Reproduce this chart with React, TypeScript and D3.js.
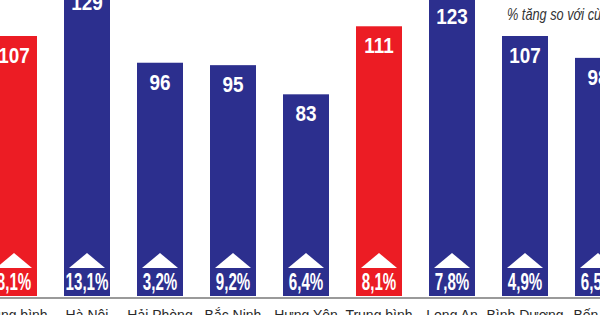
import React from "react";
import * as d3 from "d3";

const categories = [
  "Trung bình cả nước",
  "Hà Nội",
  "Hải Phòng",
  "Bắc Ninh",
  "Hưng Yên",
  "Trung bình vùng",
  "Long An",
  "Bình Dương",
  "Bến Tre",
];
const labelLines = [
  ["Trung bình", "cả nước"],
  ["Hà Nội"],
  ["Hải Phòng"],
  ["Bắc Ninh"],
  ["Hưng Yên"],
  ["Trung bình", "vùng"],
  ["Long An"],
  ["Bình Dương"],
  ["Bến Tre"],
];
const values = [107, 129, 96, 95, 83, 111, 123, 107, 98];
const growth = ["8,1%", "13,1%", "3,2%", "9,2%", "6,4%", "8,1%", "7,8%", "4,9%", "6,5%"];
const highlighted = [true, false, false, false, false, true, false, false, false];
const legendText = "% tăng so với cùng kỳ";

const W = 600;
const H = 315;
const BLUE = "#2c2f8e";
const RED = "#ec1c24";
const BOLD = "'Liberation Sans', Arial, sans-serif";

export default function App() {
  const x = d3
    .scaleBand<string>()
    .domain(categories)
    .range([-22.5, 634.5])
    .paddingInner(0.37)
    .paddingOuter(0.185);
  const y = d3.scaleLinear().domain([0, 107]).range([296, 36]);
  const bw = x.bandwidth();
  const tri = d3.line<[number, number]>();
  return (
    <svg width={W} height={H} style={{ position: "absolute", left: 0, top: 0, background: "#fff" }}>
      <rect x={0} y={0} width={W} height={H} fill="#fff" />
      {categories.map((c, i) => {
        const x0 = x(c)!;
        const cx = x0 + bw / 2;
        const top = y(values[i]);
        const fill = highlighted[i] ? RED : BLUE;
        return (
          <g key={c}>
            <rect x={x0} y={top} width={bw} height={y(0) - top} fill={fill} />
            <text
              transform={`translate(${cx},${top + 27}) scale(0.86,1)`}
              textAnchor="middle"
              fill="#fff"
              fontFamily={BOLD}
              fontWeight="bold"
              fontSize={22}
            >
              {values[i]}
            </text>
            <path d={tri([[cx - 18, 268], [cx, 253], [cx + 18, 268]])! + "Z"} fill="#fff" />
            <text
              transform={`translate(${cx},${290}) scale(0.63,1)`}
              textAnchor="middle"
              fill="#fff"
              fontFamily={BOLD}
              fontWeight="bold"
              fontSize={24}
            >
              {growth[i]}
            </text>
            <text x={cx} y={320} textAnchor="middle" fill="#2a2a2a" fontFamily={BOLD} fontSize={14}>
              {labelLines[i].map((ln, j) => (
                <tspan key={j} x={cx} dy={j === 0 ? 0 : 16}>
                  {ln}
                </tspan>
              ))}
            </text>
          </g>
        );
      })}
      <line x1={0} x2={W} y1={298} y2={298} stroke="#9a9a9a" strokeWidth={2} />
      <text
        transform="translate(507,20) scale(0.75,1)"
        fill="#333"
        fontFamily={BOLD}
        fontStyle="italic"
        fontSize={17}
      >
        {legendText}
      </text>
    </svg>
  );
}
